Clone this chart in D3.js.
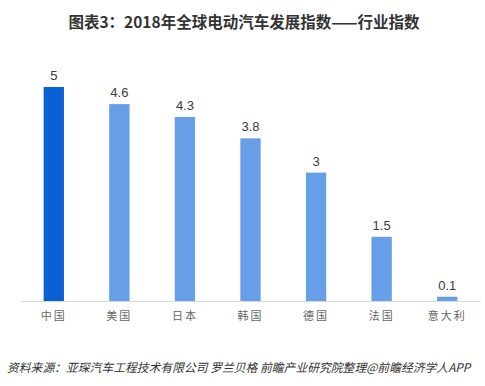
<!DOCTYPE html>
<html>
<head>
<meta charset="utf-8">
<script src="https://cdn.jsdelivr.net/npm/d3@7"></script>
<style>
  body { margin: 0; background: #fff; }
  svg { display: block; font-family: "Liberation Sans", Arial, "Noto Sans CJK SC", sans-serif; }
</style>
</head>
<body>
<div id="chart"></div>
<script>
var countries = ["中国", "美国", "日本", "韩国", "德国", "法国", "意大利"];
var values = [5, 4.6, 4.3, 3.8, 3, 1.5, 0.1];

var width = 485, height = 386;
var baseline = 301;

var svg = d3.select("#chart").append("svg")
    .attr("width", width)
    .attr("height", height);

// title
svg.append("text")
    .attr("x", 244)
    .attr("y", 28)
    .attr("text-anchor", "middle")
    .attr("font-size", 15.5)
    .attr("font-weight", "bold")
    .attr("fill", "#333")
    .style("font-family", "'Noto Sans CJK SC', sans-serif")
    .text("图表3：2018年全球电动汽车发展指数——行业指数");

// scales
var x = d3.scaleBand().domain(countries).range([21, 480]).paddingInner(0.69).paddingOuter(0.345);
var y = d3.scaleLinear().domain([0, 5]).range([baseline, 87]);

// bars
svg.selectAll("rect.bar")
    .data(values)
  .enter().append("rect")
    .attr("class", "bar")
    .attr("x", function(d, i) { return x(countries[i]); })
    .attr("y", function(d) { return y(d); })
    .attr("width", x.bandwidth())
    .attr("height", function(d) { return baseline - y(d); })
    .attr("fill", function(d, i) { return i === 0 ? "#0b60d4" : "#679ee8"; });

// value labels
svg.selectAll("text.val")
    .data(values)
  .enter().append("text")
    .attr("class", "val")
    .attr("x", function(d, i) { return x(countries[i]) + x.bandwidth() / 2; })
    .attr("y", function(d) { return y(d) - 7; })
    .attr("text-anchor", "middle")
    .attr("font-size", 13)
    .attr("fill", "#3a3a3a")
    .text(function(d) { return d; });

// x axis
var xAxis = svg.append("g")
    .attr("transform", "translate(0," + baseline + ")")
    .call(d3.axisBottom(x).tickSize(0).tickPadding(11));
xAxis.select(".domain").attr("stroke", "#d9d9d9").attr("d", "M21,0.5H481");
xAxis.selectAll("text")
    .attr("font-size", 11)
    .attr("fill", "#666")
    .style("letter-spacing", "2px")
    .style("font-family", "'Noto Sans CJK SC', sans-serif");

// source
svg.append("text")
    .attr("x", 7)
    .attr("y", 372)
    .attr("font-size", 11.8)
    .attr("font-style", "italic")
    .attr("fill", "#333")
    .style("font-family", "'Noto Sans CJK SC', sans-serif")
    .text("资料来源：亚琛汽车工程技术有限公司 罗兰贝格 前瞻产业研究院整理@前瞻经济学人APP");
</script>
</body>
</html>
